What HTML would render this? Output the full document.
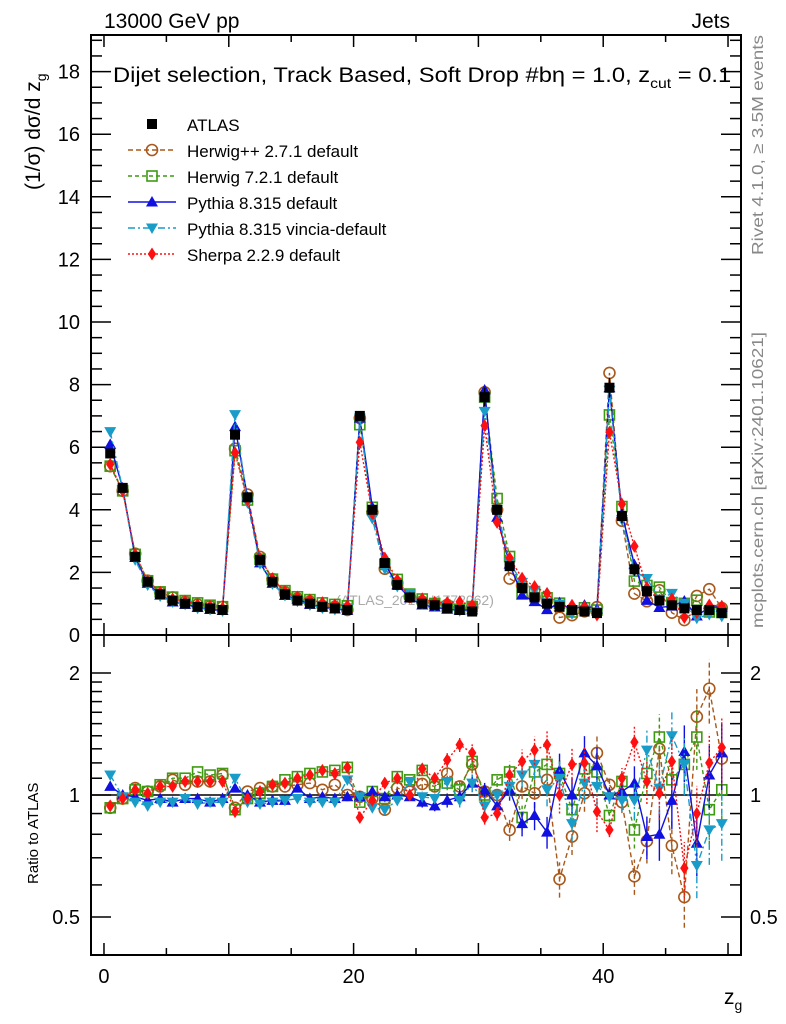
<!DOCTYPE html>
<html><head><meta charset="utf-8"><style>
html,body{margin:0;padding:0;background:#fff}
svg{display:block;font-family:"Liberation Sans",sans-serif}
</style></head><body>
<svg id="c" width="786" height="1024" viewBox="0 0 786 1024"></svg>
<script>
const binCenters=[];for(let i=0;i<50;i++)binCenters.push(i+0.5);
const atlas=[5.8,4.7,2.5,1.7,1.3,1.1,1.0,0.9,0.85,0.8,
6.4,4.4,2.4,1.7,1.3,1.1,1.0,0.9,0.85,0.8,
7.0,4.0,2.3,1.6,1.2,1.0,0.95,0.85,0.8,0.75,
7.6,4.0,2.2,1.5,1.2,1.0,0.9,0.8,0.75,0.7,
7.9,3.8,2.1,1.4,1.1,0.95,0.85,0.8,0.8,0.7];
const rHerwigpp=[0.93,0.98,1.04,1.02,1.05,1.09,1.06,1.08,1.08,1.12,
0.93,1.02,1.04,1.05,1.05,1.06,1.07,1.03,1.06,1.0,
0.99,0.98,0.92,1.04,1.02,1.065,1.05,1.13,1.05,1.19,
1.02,1.0,0.82,1.05,1.01,1.09,0.62,0.79,1.01,1.27,
1.06,0.96,0.63,0.77,1.3,0.75,0.56,1.56,1.83,1.23];
const rHerwig7=[0.93,0.98,1.03,1.02,1.06,1.1,1.1,1.14,1.12,1.13,
0.92,0.98,1.01,1.05,1.09,1.11,1.13,1.14,1.15,1.17,
0.96,1.02,0.98,1.11,1.09,1.15,1.06,1.07,1.03,1.21,
1.0,1.09,1.14,0.88,1.14,1.19,1.13,0.92,1.16,1.14,
0.89,1.08,0.82,1.13,1.39,1.09,1.19,1.39,0.92,1.03];
const rPythia=[1.05,1.0,0.99,0.97,0.98,0.96,0.98,0.98,0.96,0.98,
1.04,1.0,0.96,0.97,0.97,1.04,0.98,0.99,0.98,0.99,
0.99,1.02,0.99,1.0,0.99,0.96,0.94,0.97,0.99,1.07,
1.03,0.94,1.03,0.85,0.89,0.81,1.15,1.0,1.27,1.18,
1.0,1.02,1.07,0.79,0.8,0.97,1.28,0.76,1.12,1.27];
const rVincia=[1.12,0.99,0.96,0.94,0.96,0.96,0.98,0.95,0.96,0.96,
1.1,0.96,0.95,0.96,0.97,0.98,0.96,0.96,0.96,1.09,
0.99,0.93,0.92,0.97,1.08,0.99,0.98,1.08,0.97,1.07,
0.94,1.0,1.05,1.12,1.19,1.03,1.1,0.85,1.07,1.05,
0.99,0.97,0.97,1.29,1.04,1.4,1.19,0.67,0.82,0.85];
const rSherpa=[0.94,0.98,1.03,1.01,1.05,1.05,1.08,1.08,1.08,1.08,
0.91,0.98,1.02,1.06,1.07,1.1,1.12,1.15,1.13,1.17,
0.88,0.97,1.07,1.1,1.0,1.16,1.1,1.22,1.33,1.27,
0.88,0.9,1.12,1.21,1.29,1.33,1.0,1.19,1.2,0.91,
0.82,1.1,1.35,1.08,1.01,1.21,0.66,0.9,1.2,1.31];
const relErr=[0.01,0.01,0.01,0.01,0.01,0.01,0.01,0.01,0.01,0.01,
0.01,0.01,0.01,0.01,0.01,0.01,0.01,0.01,0.01,0.01,
0.02,0.02,0.02,0.02,0.02,0.03,0.03,0.04,0.04,0.05,
0.04,0.04,0.06,0.07,0.08,0.09,0.1,0.1,0.1,0.11,
0.04,0.06,0.1,0.12,0.14,0.15,0.16,0.17,0.18,0.19];
const series=[
 {name:"Herwig++ 2.7.1 default",r:rHerwigpp,col:"#a8581a",dash:"5,3",mk:"circle",key:"herwigpp"},
 {name:"Herwig 7.2.1 default",r:rHerwig7,col:"#3f9a13",dash:"4,3",mk:"square",key:"herwig7"},
 {name:"Pythia 8.315 default",r:rPythia,col:"#1010e0",dash:"",mk:"tri",key:"pythia"},
 {name:"Pythia 8.315 vincia-default",r:rVincia,col:"#1a9cc8",dash:"7,3,2,3",mk:"itri",key:"vincia"},
 {name:"Sherpa 2.2.9 default",r:rSherpa,col:"#ff1010",dash:"2,2",mk:"diamond",key:"sherpa"}];
const yTicksMain=[0,2,4,6,8,10,12,14,16,18];
const xTickLabels=[0,20,40];
const rTickLabels=[0.5,1,2];

const NS="http://www.w3.org/2000/svg",svg=document.getElementById('c');
function el(t,a,p){const e=document.createElementNS(NS,t);for(const k in a)e.setAttribute(k,a[k]);(p||svg).appendChild(e);return e;}
const L=91,R=741,T=35,MB=635,RB=955;
const X=v=>L+(v+1.04)*(R-L)/52.08;
const Y=v=>MB-v*31.3;
const YR=v=>795-122*Math.log2(v);
function txt(s,x,y,a,p){const t=el('text',Object.assign({x:x,y:y,'font-size':20,fill:'#000'},a||{}),p);t.textContent=s;return t;}
function marker(g,mk,x,y,col,s){
 let e;
 if(mk==="circle")e=el('circle',{cx:x,cy:y,r:s*0.55,fill:'none',stroke:col,'stroke-width':1.6},g);
 else if(mk==="square")e=el('rect',{x:x-s/2,y:y-s/2,width:s,height:s,fill:'none',stroke:col,'stroke-width':1.6},g);
 else if(mk==="fsquare")e=el('rect',{x:x-s/2,y:y-s/2,width:s,height:s,fill:col},g);
 else if(mk==="tri")e=el('polygon',{points:`${x},${y-s*0.6} ${x-s*0.6},${y+s*0.45} ${x+s*0.6},${y+s*0.45}`,fill:col},g);
 else if(mk==="itri")e=el('polygon',{points:`${x},${y+s*0.6} ${x-s*0.6},${y-s*0.45} ${x+s*0.6},${y-s*0.45}`,fill:col},g);
 else e=el('polygon',{points:`${x},${y-s*0.65} ${x-s*0.42},${y} ${x},${y+s*0.65} ${x+s*0.42},${y}`,fill:col},g);
 return e;
}
const fm=el('rect',{x:L,y:T,width:R-L,height:MB-T,fill:'none',stroke:'#000','stroke-width':2});

const fr=el('rect',{x:L,y:MB,width:R-L,height:RB-MB,fill:'none',stroke:'#000','stroke-width':2});

const xt=el('g',{stroke:'#000','stroke-width':1.5});

for(let v=0;v<=50;v+=5){const x=X(v),l=(v%10===0)?12:7;
 [[MB,-1],[T,1],[RB,-1],[MB,1]].forEach(([y0,d])=>el('line',{x1:x,y1:y0,x2:x,y2:y0+d*l},xt));}
xTickLabels.forEach(v=>{const t=txt(String(v),X(v),983,{'text-anchor':'middle'});
 });
const yt=el('g',{stroke:'#000','stroke-width':1.5});

for(let v=0;v<=19;v+=0.5){const y=Y(v),l=(v%2===0)?20:11;
 el('line',{x1:L,y1:y,x2:L+l,y2:y},yt);el('line',{x1:R,y1:y,x2:R-l,y2:y},yt);}
yTicksMain.forEach(v=>{const t=txt(String(v),80,Y(v)+7,{'text-anchor':'end'});
 });
const rt=el('g',{stroke:'#000','stroke-width':1.5});

[0.5,0.6,0.7,0.8,0.9,1,1.1,1.2,1.3,1.4,1.5,1.6,1.7,1.8,1.9,2].forEach(v=>{const y=YR(v),l=rTickLabels.includes(v)?20:11;
 el('line',{x1:L,y1:y,x2:L+l,y2:y},rt);el('line',{x1:R,y1:y,x2:R-l,y2:y},rt);});
rTickLabels.forEach(v=>{const a=txt(String(v),80,YR(v)+7,{'text-anchor':'end'});
 
 const b=txt(String(v),750,YR(v)+7,{});
 });
const one=el('line',{x1:L,y1:YR(1),x2:R,y2:YR(1),stroke:'#000','stroke-width':1.5});

const wm=txt('(ATLAS_2019_I1772062)',415,605,{'text-anchor':'middle','font-size':14,fill:'#aaa'});

series.forEach(s=>{
 const g=el('g',{});
 const mv=atlas.map((a,i)=>a*s.r[i]);
 el('polyline',{points:binCenters.map((c,i)=>X(c)+','+Y(mv[i])).join(' '),fill:'none',stroke:s.col,'stroke-width':1.4,'stroke-dasharray':s.dash},g);
 const gr=el('g',{});
 el('polyline',{points:binCenters.map((c,i)=>X(c)+','+YR(s.r[i])).join(' '),fill:'none',stroke:s.col,'stroke-width':1.4,'stroke-dasharray':s.dash},gr);
 binCenters.forEach((c,i)=>{
  const e=relErr[i]*s.r[i];
  if(e>0.015)el('line',{x1:X(c),y1:YR(Math.max(0.38,s.r[i]-e)),x2:X(c),y2:YR(s.r[i]+e),stroke:s.col,'stroke-width':1.4,'stroke-dasharray':s.dash},gr);
  const m=marker(g,s.mk,X(c),Y(mv[i]),s.col,10);
  
  const m2=marker(gr,s.mk,X(c),YR(s.r[i]),s.col,10);
  
 });
});
const gd=el('g',{});
binCenters.forEach((c,i)=>{
 const e=atlas[i]*relErr[i];
 el('line',{x1:X(c),y1:Y(atlas[i]-e),x2:X(c),y2:Y(atlas[i]+e),stroke:'#000','stroke-width':1.4},gd);
 const m=marker(gd,'fsquare',X(c),Y(atlas[i]),'#000',10);
 
});
let t;
t=txt('13000 GeV pp',104,28,{'font-size':21});
t=txt('Jets',730,28,{'font-size':21,'text-anchor':'end'});
t=el('text',{x:0,y:0,'font-size':21,transform:'translate(113,82) scale(1.13,1)'});
t.innerHTML='Dijet selection, Track Based, Soft Drop #bη = 1.0, z<tspan font-size="14" dy="6">cut</tspan><tspan dy="-6"> = 0.1</tspan>';

t=el('text',{x:0,y:0,'font-size':21,transform:'translate(40,190) rotate(-90)'});
t.innerHTML='(1/σ) dσ/d z<tspan font-size="14" dy="6">g</tspan>';

t=txt('Ratio to ATLAS',0,0,{'font-size':15,transform:'translate(38,884) rotate(-90)'});

t=el('text',{x:724,y:1004,'font-size':21});t.innerHTML='z<tspan font-size="14" dy="6">g</tspan>';

t=txt('Rivet 4.1.0, ≥ 3.5M events',0,0,{'font-size':16,fill:'#888',textLength:220,lengthAdjust:'spacingAndGlyphs',transform:'translate(763,255) rotate(-90)'});

t=txt('mcplots.cern.ch [arXiv:2401.10621]',0,0,{'font-size':16,fill:'#888',textLength:296,lengthAdjust:'spacingAndGlyphs',transform:'translate(763,628) rotate(-90)'});

const lg=el('g',{});
const e0=el('g',{},lg);
marker(e0,'fsquare',152,124,'#000',10);txt('ATLAS',187,131,{'font-size':17},e0);
series.forEach((s,k)=>{const y=150+26*k;
 const e=el('g',{},lg);
 el('line',{x1:128,y1:y,x2:176,y2:y,stroke:s.col,'stroke-width':1.4,'stroke-dasharray':s.dash},e);
 marker(e,s.mk,152,y,s.col,10);txt(s.name,187,y+7,{'font-size':17},e);});
</script>
</body></html>
